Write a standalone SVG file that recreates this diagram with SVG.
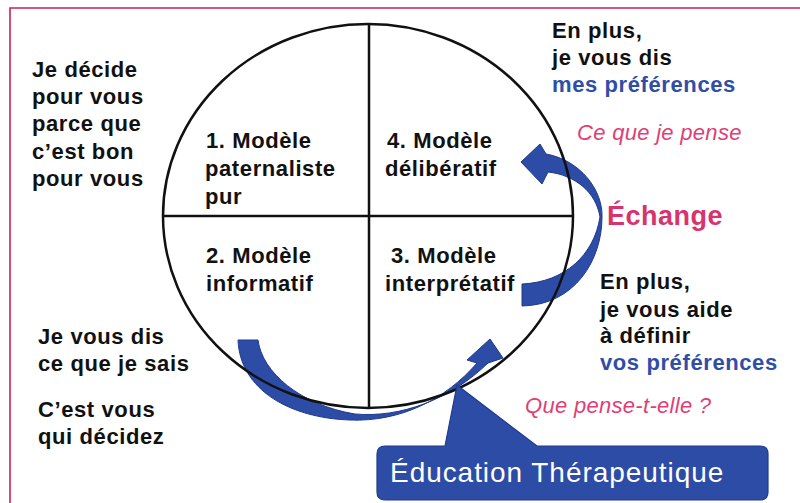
<svg xmlns="http://www.w3.org/2000/svg" width="800" height="503" viewBox="0 0 800 503">
<style>
.t{font-family:"Liberation Sans",Arial,sans-serif;font-weight:bold;font-size:22px;fill:#111;letter-spacing:0.6px}
.b{fill:#2f4ea5}
.p{font-family:"Liberation Sans",Arial,sans-serif;font-style:italic;font-size:22px;fill:#de3f76;letter-spacing:0.3px}
.arrow{fill:#2c4ca6;stroke:#1e3a8c;stroke-width:1}
</style>
<rect width="800" height="503" fill="#fff"/>
<path d="M800 8 H10 V503" fill="none" stroke="#c8205e" stroke-width="1.6"/>
<g id="connectors">
<path class="arrow" d="M522 284 C565 282 594 255 600 217 C596 192 575 175 548 172 L542 184 L521 162 L540 144 L546 154 C580 160 603 190 602 217 C602 260 575 305 522 306 Z"/>
<path class="arrow" d="M238 340 L258 340 C262 372 300 405 355 414 C400 418 450 400 488 363 L503 358 L490 339 L467 360 L477 363 C445 400 400 422 350 420 C290 418 240 390 238 340 Z"/>
</g>
<g id="circle" fill="none" stroke="#111" stroke-width="2.5">
<ellipse cx="368" cy="216" rx="205" ry="192"/>
<line x1="163" y1="216" x2="573" y2="216"/>
<line x1="369" y1="24" x2="369" y2="408"/>
</g>
<g id="q1"><text class="t" x="206" y="148">1. Modèle</text><text class="t" x="205" y="176">paternaliste</text><text class="t" x="205" y="204">pur</text></g>
<g id="q4"><text class="t" x="387" y="148">4. Modèle</text><text class="t" x="385" y="176">délibératif</text></g>
<g id="q2"><text class="t" x="206" y="263">2. Modèle</text><text class="t" x="206" y="291">informatif</text></g>
<g id="q3"><text class="t" x="391" y="263">3. Modèle</text><text class="t" x="385" y="291">interprétatif</text></g>
<g id="left-top"><text class="t" x="32" y="77">Je décide</text><text class="t" x="32" y="104">pour vous</text><text class="t" x="32" y="131">parce que</text><text class="t" x="32" y="159">c’est bon</text><text class="t" x="32" y="186">pour vous</text></g>
<g id="left-bottom"><text class="t" x="38" y="344">Je vous dis</text><text class="t" x="38" y="371">ce que je sais</text><text class="t" x="38" y="417">C’est vous</text><text class="t" x="38" y="444">qui décidez</text></g>
<g id="right-top"><text class="t" x="552" y="38">En plus,</text><text class="t" x="552" y="65">je vous dis</text><text class="t b" x="552" y="92">mes préférences</text><text class="p" x="577" y="140">Ce que je pense</text></g>
<g id="echange"><text x="607" y="225" style="font-family:'Liberation Sans',Arial,sans-serif;font-weight:bold;font-size:27px;fill:#d8336e;letter-spacing:0.5px">Échange</text></g>
<g id="right-bottom"><text class="t" x="600" y="289">En plus,</text><text class="t" x="600" y="317">je vous aide</text><text class="t" x="600" y="343">à définir</text><text class="t b" x="600" y="370">vos préférences</text><text class="p" x="525" y="413">Que pense-t-elle ?</text></g>
<g id="education">
<path d="M385 446 L445 446 L457 385 L537 446 L760 446 Q768 446 768 454 L768 492 Q768 500 760 500 L385 500 Q377 500 377 492 L377 454 Q377 446 385 446 Z" fill="#2c4ca6" stroke="#1e3a8c" stroke-width="1.2"/>
<text x="390" y="482" style="font-family:'Liberation Sans',Arial,sans-serif;font-size:28px;fill:#fff;letter-spacing:0.95px">Éducation Thérapeutique</text>
</g>
</svg>
